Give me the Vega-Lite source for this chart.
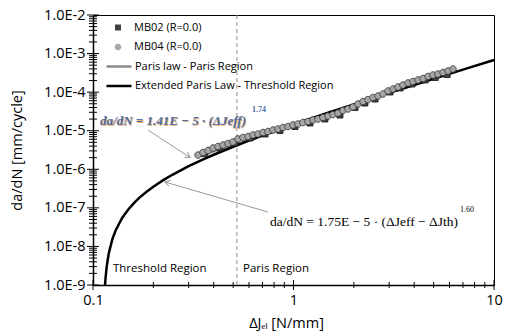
{
  "$schema": "https://vega.github.io/schema/vega-lite/v6.json",
  "width": 401,
  "height": 270,
  "autosize": {"type": "none"},
  "padding": {"left": 93, "top": 15, "right": 11, "bottom": 50},
  "background": "white",
  "config": {
    "view": {"stroke": "black", "strokeWidth": 1},
    "font": "Open Sans"
  },
  "datasets": {
    "paris": [
      {"x": 0.33, "y": 2.04e-6, "series": "Paris law - Paris Region"},
      {"x": 0.5, "y": 4.22e-6, "series": "Paris law - Paris Region"},
      {"x": 1, "y": 1.41e-5, "series": "Paris law - Paris Region"},
      {"x": 2, "y": 4.71e-5, "series": "Paris law - Paris Region"},
      {"x": 4, "y": 1.574e-4, "series": "Paris law - Paris Region"},
      {"x": 6.5, "y": 3.66e-4, "series": "Paris law - Paris Region"}
    ],
    "ext": [
      {"x": 0.1148, "y": 1.0e-9, "series": "Extended Paris Law - Threshold Region"},
      {"x": 0.1155, "y": 1.52e-9, "series": "Extended Paris Law - Threshold Region"},
      {"x": 0.117, "y": 2.97e-9, "series": "Extended Paris Law - Threshold Region"},
      {"x": 0.12, "y": 6.83e-9, "series": "Extended Paris Law - Threshold Region"},
      {"x": 0.125, "y": 1.56e-8, "series": "Extended Paris Law - Threshold Region"},
      {"x": 0.13, "y": 2.68e-8, "series": "Extended Paris Law - Threshold Region"},
      {"x": 0.14, "y": 5.54e-8, "series": "Extended Paris Law - Threshold Region"},
      {"x": 0.15, "y": 9.10e-8, "series": "Extended Paris Law - Threshold Region"},
      {"x": 0.16, "y": 1.33e-7, "series": "Extended Paris Law - Threshold Region"},
      {"x": 0.17, "y": 1.81e-7, "series": "Extended Paris Law - Threshold Region"},
      {"x": 0.185, "y": 2.62e-7, "series": "Extended Paris Law - Threshold Region"},
      {"x": 0.2, "y": 3.54e-7, "series": "Extended Paris Law - Threshold Region"},
      {"x": 0.225, "y": 5.30e-7, "series": "Extended Paris Law - Threshold Region"},
      {"x": 0.25, "y": 7.31e-7, "series": "Extended Paris Law - Threshold Region"},
      {"x": 0.3, "y": 1.20e-6, "series": "Extended Paris Law - Threshold Region"},
      {"x": 0.35, "y": 1.75e-6, "series": "Extended Paris Law - Threshold Region"},
      {"x": 0.4, "y": 2.38e-6, "series": "Extended Paris Law - Threshold Region"},
      {"x": 0.5, "y": 3.84e-6, "series": "Extended Paris Law - Threshold Region"},
      {"x": 0.6, "y": 5.54e-6, "series": "Extended Paris Law - Threshold Region"},
      {"x": 0.7, "y": 7.47e-6, "series": "Extended Paris Law - Threshold Region"},
      {"x": 0.85, "y": 1.075e-5, "series": "Extended Paris Law - Threshold Region"},
      {"x": 1, "y": 1.45e-5, "series": "Extended Paris Law - Threshold Region"},
      {"x": 1.5, "y": 2.96e-5, "series": "Extended Paris Law - Threshold Region"},
      {"x": 2, "y": 4.83e-5, "series": "Extended Paris Law - Threshold Region"},
      {"x": 3, "y": 9.55e-5, "series": "Extended Paris Law - Threshold Region"},
      {"x": 4, "y": 1.536e-4, "series": "Extended Paris Law - Threshold Region"},
      {"x": 5, "y": 2.22e-4, "series": "Extended Paris Law - Threshold Region"},
      {"x": 7, "y": 3.84e-4, "series": "Extended Paris Law - Threshold Region"},
      {"x": 10, "y": 6.84e-4, "series": "Extended Paris Law - Threshold Region"}
    ],
    "mb02": [
      {"x": 0.361, "y": 2.54e-6, "series": "MB02 (R=0.0)"},
      {"x": 0.430, "y": 3.56e-6, "series": "MB02 (R=0.0)"},
      {"x": 0.511, "y": 4.80e-6, "series": "MB02 (R=0.0)"},
      {"x": 0.607, "y": 6.47e-6, "series": "MB02 (R=0.0)"},
      {"x": 0.721, "y": 8.22e-6, "series": "MB02 (R=0.0)"},
      {"x": 0.856, "y": 1.014e-5, "series": "MB02 (R=0.0)"},
      {"x": 1.017, "y": 1.285e-5, "series": "MB02 (R=0.0)"},
      {"x": 1.208, "y": 1.585e-5, "series": "MB02 (R=0.0)"},
      {"x": 1.434, "y": 2.014e-5, "series": "MB02 (R=0.0)"},
      {"x": 1.705, "y": 2.55e-5, "series": "MB02 (R=0.0)"},
      {"x": 2.026, "y": 4.0e-5, "series": "MB02 (R=0.0)"},
      {"x": 2.27, "y": 5.22e-5, "series": "MB02 (R=0.0)"},
      {"x": 2.55, "y": 6.64e-5, "series": "MB02 (R=0.0)"},
      {"x": 3.03, "y": 1.009e-4, "series": "MB02 (R=0.0)"},
      {"x": 3.40, "y": 1.281e-4, "series": "MB02 (R=0.0)"},
      {"x": 3.90, "y": 1.626e-4, "series": "MB02 (R=0.0)"},
      {"x": 4.53, "y": 2.065e-4, "series": "MB02 (R=0.0)"},
      {"x": 5.09, "y": 2.40e-4, "series": "MB02 (R=0.0)"},
      {"x": 5.84, "y": 2.86e-4, "series": "MB02 (R=0.0)"}
    ],
    "mb04": [
      {"x": 0.3340, "y": 2.34e-6, "series": "MB04 (R=0.0)"},
      {"x": 0.3536, "y": 2.72e-6, "series": "MB04 (R=0.0)"},
      {"x": 0.3746, "y": 3.07e-6, "series": "MB04 (R=0.0)"},
      {"x": 0.3967, "y": 3.56e-6, "series": "MB04 (R=0.0)"},
      {"x": 0.4201, "y": 3.90e-6, "series": "MB04 (R=0.0)"},
      {"x": 0.4450, "y": 4.27e-6, "series": "MB04 (R=0.0)"},
      {"x": 0.4712, "y": 4.66e-6, "series": "MB04 (R=0.0)"},
      {"x": 0.4991, "y": 5.09e-6, "series": "MB04 (R=0.0)"},
      {"x": 0.5285, "y": 6.10e-6, "series": "MB04 (R=0.0)"},
      {"x": 0.5597, "y": 6.67e-6, "series": "MB04 (R=0.0)"},
      {"x": 0.5930, "y": 7.08e-6, "series": "MB04 (R=0.0)"},
      {"x": 0.6281, "y": 7.74e-6, "series": "MB04 (R=0.0)"},
      {"x": 0.6651, "y": 8.22e-6, "series": "MB04 (R=0.0)"},
      {"x": 0.7046, "y": 8.99e-6, "series": "MB04 (R=0.0)"},
      {"x": 0.7459, "y": 9.55e-6, "series": "MB04 (R=0.0)"},
      {"x": 0.7904, "y": 1.045e-5, "series": "MB04 (R=0.0)"},
      {"x": 0.8370, "y": 1.107e-5, "series": "MB04 (R=0.0)"},
      {"x": 0.8864, "y": 1.211e-5, "series": "MB04 (R=0.0)"},
      {"x": 0.9389, "y": 1.285e-5, "series": "MB04 (R=0.0)"},
      {"x": 0.9943, "y": 1.406e-5, "series": "MB04 (R=0.0)"},
      {"x": 1.0529, "y": 1.493e-5, "series": "MB04 (R=0.0)"},
      {"x": 1.1153, "y": 1.633e-5, "series": "MB04 (R=0.0)"},
      {"x": 1.1810, "y": 1.733e-5, "series": "MB04 (R=0.0)"},
      {"x": 1.2511, "y": 1.896e-5, "series": "MB04 (R=0.0)"},
      {"x": 1.3248, "y": 2.014e-5, "series": "MB04 (R=0.0)"},
      {"x": 1.4030, "y": 2.20e-5, "series": "MB04 (R=0.0)"},
      {"x": 1.4861, "y": 2.40e-5, "series": "MB04 (R=0.0)"},
      {"x": 1.5740, "y": 2.63e-5, "series": "MB04 (R=0.0)"},
      {"x": 1.6668, "y": 2.88e-5, "series": "MB04 (R=0.0)"},
      {"x": 1.7654, "y": 3.34e-5, "series": "MB04 (R=0.0)"},
      {"x": 1.8694, "y": 3.66e-5, "series": "MB04 (R=0.0)"},
      {"x": 1.9806, "y": 4.12e-5, "series": "MB04 (R=0.0)"},
      {"x": 2.0975, "y": 4.92e-5, "series": "MB04 (R=0.0)"},
      {"x": 2.2214, "y": 5.71e-5, "series": "MB04 (R=0.0)"},
      {"x": 2.3529, "y": 6.44e-5, "series": "MB04 (R=0.0)"},
      {"x": 2.4917, "y": 7.26e-5, "series": "MB04 (R=0.0)"},
      {"x": 2.6387, "y": 7.94e-5, "series": "MB04 (R=0.0)"},
      {"x": 2.7953, "y": 8.95e-5, "series": "MB04 (R=0.0)"},
      {"x": 2.9601, "y": 1.071e-4, "series": "MB04 (R=0.0)"},
      {"x": 3.1355, "y": 1.206e-4, "series": "MB04 (R=0.0)"},
      {"x": 3.3204, "y": 1.359e-4, "series": "MB04 (R=0.0)"},
      {"x": 3.5161, "y": 1.531e-4, "series": "MB04 (R=0.0)"},
      {"x": 3.7246, "y": 1.726e-4, "series": "MB04 (R=0.0)"},
      {"x": 3.9446, "y": 1.888e-4, "series": "MB04 (R=0.0)"},
      {"x": 4.1773, "y": 2.065e-4, "series": "MB04 (R=0.0)"},
      {"x": 4.4250, "y": 2.26e-4, "series": "MB04 (R=0.0)"},
      {"x": 4.6861, "y": 2.55e-4, "series": "MB04 (R=0.0)"},
      {"x": 4.9635, "y": 2.78e-4, "series": "MB04 (R=0.0)"},
      {"x": 5.2565, "y": 2.95e-4, "series": "MB04 (R=0.0)"},
      {"x": 5.5668, "y": 3.23e-4, "series": "MB04 (R=0.0)"},
      {"x": 5.8962, "y": 3.53e-4, "series": "MB04 (R=0.0)"},
      {"x": 6.2431, "y": 3.98e-4, "series": "MB04 (R=0.0)"}
    ],
    "boundary": [{"x": 0.522}],
    "xmajor": [{"v": 0.1}, {"v": 1}, {"v": 10}],
    "xminor": [{"v": 0.2}, {"v": 0.3}, {"v": 0.4}, {"v": 0.5}, {"v": 0.6}, {"v": 0.7}, {"v": 0.8}, {"v": 0.9}, {"v": 2}, {"v": 3}, {"v": 4}, {"v": 5}, {"v": 6}, {"v": 7}, {"v": 8}, {"v": 9}],
    "ymajor": [{"v": 1e-9}, {"v": 1e-8}, {"v": 1e-7}, {"v": 1e-6}, {"v": 1e-5}, {"v": 1e-4}, {"v": 1e-3}, {"v": 1e-2}],
    "yminor": [
      {"v": 2e-9}, {"v": 3e-9}, {"v": 4e-9}, {"v": 5e-9}, {"v": 6e-9}, {"v": 7e-9}, {"v": 8e-9}, {"v": 9e-9},
      {"v": 2e-8}, {"v": 3e-8}, {"v": 4e-8}, {"v": 5e-8}, {"v": 6e-8}, {"v": 7e-8}, {"v": 8e-8}, {"v": 9e-8},
      {"v": 2e-7}, {"v": 3e-7}, {"v": 4e-7}, {"v": 5e-7}, {"v": 6e-7}, {"v": 7e-7}, {"v": 8e-7}, {"v": 9e-7},
      {"v": 2e-6}, {"v": 3e-6}, {"v": 4e-6}, {"v": 5e-6}, {"v": 6e-6}, {"v": 7e-6}, {"v": 8e-6}, {"v": 9e-6},
      {"v": 2e-5}, {"v": 3e-5}, {"v": 4e-5}, {"v": 5e-5}, {"v": 6e-5}, {"v": 7e-5}, {"v": 8e-5}, {"v": 9e-5},
      {"v": 2e-4}, {"v": 3e-4}, {"v": 4e-4}, {"v": 5e-4}, {"v": 6e-4}, {"v": 7e-4}, {"v": 8e-4}, {"v": 9e-4},
      {"v": 2e-3}, {"v": 3e-3}, {"v": 4e-3}, {"v": 5e-3}, {"v": 6e-3}, {"v": 7e-3}, {"v": 8e-3}, {"v": 9e-3}
    ],
    "regions": [
      {"x": 0.1258, "y": 2.6e-9, "label": "Threshold Region"},
      {"x": 0.5597, "y": 2.6e-9, "label": "Paris Region"}
    ],
    "eq1": [{"x": 0.1084, "y": 1.79e-5, "label": "da/dN = 1.41E − 5 · (ΔJeff)"}],
    "eq1sup": [{"x": 0.621, "y": 3.44e-5, "label": "1.74"}],
    "eq2": [{"x": 0.763, "y": 4.30e-8, "label": "da/dN = 1.75E − 5 · (ΔJeff − ΔJth)"}],
    "eq2sup": [{"x": 6.77, "y": 8.8e-8, "label": "1.60"}],
    "arrows": [
      {"x": 0.188, "y": 1.04e-5, "x2": 0.3047, "y2": 2.02e-6},
      {"x": 0.746, "y": 7.8e-8, "x2": 0.2286, "y2": 4.68e-7}
    ],
    "head1": [{"x": 0.3047, "y": 2.02e-6}],
    "head2": [{"x": 0.2286, "y": 4.68e-7}]
  },
  "layer": [
    {
      "data": {"name": "boundary"},
      "mark": {"type": "rule", "stroke": "#8c8c8c", "strokeWidth": 1, "strokeDash": [4, 3]},
      "encoding": {
        "x": {
          "field": "x", "type": "quantitative",
          "scale": {"type": "log", "domain": [0.1, 10], "nice": false},
          "axis": {
            "orient": "bottom",
            "values": [0.1, 1, 10],
            "labelExpr": "format(datum.value, '~g')",
            "labelOverlap": false,
            "labelFlush": false,
            "labelFontSize": 14.5,
            "labelColor": "black",
            "labelPadding": 8,
            "ticks": false,
            "domainColor": "black",
            "domainWidth": 1.5,
            "grid": false,
            "title": "ΔJₑₗ [N/mm]",
            "titleFontSize": 14.5,
            "titleFontWeight": "normal",
            "titleColor": "black",
            "titleX": 193,
            "titleY": 38,
            "titleBaseline": "middle"
          }
        }
      }
    },
    {
      "data": {"name": "paris"},
      "mark": {"type": "line", "stroke": "#8c8c8c", "strokeWidth": 2},
      "encoding": {
        "x": {"field": "x", "type": "quantitative"},
        "y": {
          "field": "y", "type": "quantitative",
          "scale": {"type": "log", "domain": [1e-9, 1e-2], "nice": false},
          "axis": {
            "orient": "left",
            "values": [1e-9, 1e-8, 1e-7, 1e-6, 1e-5, 1e-4, 1e-3, 1e-2],
            "labelExpr": "'1.0E' + round(log(datum.value)/LN10)",
            "labelOverlap": false,
            "labelFlush": false,
            "labelFontSize": 14.5,
            "labelColor": "black",
            "labelPadding": 8,
            "ticks": false,
            "domainColor": "black",
            "domainWidth": 1.5,
            "grid": false,
            "title": "da/dN [mm/cycle]",
            "titleFontSize": 14.5,
            "titleFontWeight": "normal",
            "titleColor": "black",
            "titleX": -76,
            "titleY": 135,
            "titleBaseline": "middle",
            "titleAngle": -90
          }
        },
        "stroke": {
          "field": "series", "type": "nominal",
          "scale": {"domain": ["Paris law - Paris Region", "Extended Paris Law - Threshold Region"], "range": ["#8c8c8c", "#000000"]},
          "legend": {
            "orient": "none", "legendX": 19.5, "legendY": 45, "title": null, "padding": 0,
            "symbolType": "M-2.5,0L2.5,0", "symbolSize": 100, "symbolStrokeWidth": 2.5,
            "labelFontSize": 11, "labelColor": "black", "labelOffset": 9.5, "rowPadding": 7.5, "labelLimit": 400
          }
        }
      }
    },
    {
      "data": {"name": "ext"},
      "mark": {"type": "line", "strokeWidth": 2.5},
      "encoding": {
        "x": {"field": "x", "type": "quantitative"},
        "y": {"field": "y", "type": "quantitative"},
        "stroke": {"field": "series", "type": "nominal"}
      }
    },
    {
      "data": {"name": "ymajor"},
      "mark": {"type": "rule", "color": "#000000", "strokeWidth": 1, "opacity": 1},
      "encoding": {
        "y": {"field": "v", "type": "quantitative"},
        "x": {"datum": 0.09334, "type": "quantitative"},
        "x2": {"datum": 0.10713}
      }
    },
    {
      "data": {"name": "yminor"},
      "mark": {"type": "rule", "color": "#000000", "strokeWidth": 1, "opacity": 1},
      "encoding": {
        "y": {"field": "v", "type": "quantitative"},
        "x": {"datum": 0.09551, "type": "quantitative"},
        "x2": {"datum": 0.1047}
      }
    },
    {
      "data": {"name": "xmajor"},
      "mark": {"type": "rule", "color": "#000000", "strokeWidth": 1, "opacity": 1},
      "encoding": {
        "x": {"field": "v", "type": "quantitative"},
        "y": {"datum": 7.42e-10, "type": "quantitative"},
        "y2": {"datum": 1.348e-9}
      }
    },
    {
      "data": {"name": "xminor"},
      "mark": {"type": "rule", "color": "#000000", "strokeWidth": 1, "opacity": 1},
      "encoding": {
        "x": {"field": "v", "type": "quantitative"},
        "y": {"datum": 8.36e-10, "type": "quantitative"},
        "y2": {"datum": 1.196e-9}
      }
    },
    {
      "data": {"name": "mb02"},
      "mark": {"type": "point", "filled": true, "size": 100, "stroke": "#111111", "strokeWidth": 0.8, "opacity": 1},
      "encoding": {
        "x": {"field": "x", "type": "quantitative"},
        "y": {"field": "y", "type": "quantitative"},
        "fill": {
          "field": "series", "type": "nominal",
          "scale": {"domain": ["MB02 (R=0.0)", "MB04 (R=0.0)"], "range": ["#404040", "#a6a6a6"]},
          "legend": {
            "orient": "none", "legendX": 19.5, "legendY": 7, "title": null, "padding": 0,
            "symbolSize": 100, "symbolStrokeColor": "#222222", "symbolStrokeWidth": 0.8,
            "labelFontSize": 11, "labelColor": "black", "labelOffset": 10.5, "rowPadding": 7.5
          }
        },
        "shape": {
          "field": "series", "type": "nominal",
          "scale": {"domain": ["MB02 (R=0.0)", "MB04 (R=0.0)"], "range": ["M-0.6,-0.6L0.6,-0.6L0.6,0.6L-0.6,0.6Z", "M0.66,0A0.66,0.66,0,1,1,-0.66,0A0.66,0.66,0,1,1,0.66,0Z"]},
          "legend": {
            "orient": "none", "legendX": 19.5, "legendY": 7, "title": null, "padding": 0,
            "symbolSize": 100, "symbolStrokeColor": "#222222", "symbolStrokeWidth": 0.8,
            "labelFontSize": 11, "labelColor": "black", "labelOffset": 10.5, "rowPadding": 7.5
          }
        }
      }
    },
    {
      "data": {"name": "mb04"},
      "mark": {"type": "point", "filled": true, "size": 100, "stroke": "#333333", "strokeWidth": 0.8, "opacity": 1},
      "encoding": {
        "x": {"field": "x", "type": "quantitative"},
        "y": {"field": "y", "type": "quantitative"},
        "fill": {"field": "series", "type": "nominal"},
        "shape": {"field": "series", "type": "nominal"}
      }
    },
    {
      "data": {"name": "arrows"},
      "mark": {"type": "rule", "stroke": "#999999", "strokeWidth": 1},
      "encoding": {
        "x": {"field": "x", "type": "quantitative"},
        "y": {"field": "y", "type": "quantitative"},
        "x2": {"field": "x2"},
        "y2": {"field": "y2"}
      }
    },
    {
      "data": {"name": "head1"},
      "mark": {"type": "point", "shape": "M-1,-0.6L0,0L-1,0.6", "filled": false, "stroke": "#999999", "strokeWidth": 1, "size": 100, "angle": 33.7, "opacity": 1},
      "encoding": {
        "x": {"field": "x", "type": "quantitative"},
        "y": {"field": "y", "type": "quantitative"}
      }
    },
    {
      "data": {"name": "head2"},
      "mark": {"type": "point", "shape": "M-1,-0.6L0,0L-1,0.6", "filled": false, "stroke": "#999999", "strokeWidth": 1, "size": 100, "angle": 196.2, "opacity": 1},
      "encoding": {
        "x": {"field": "x", "type": "quantitative"},
        "y": {"field": "y", "type": "quantitative"}
      }
    },
    {
      "data": {"name": "regions"},
      "mark": {"type": "text", "align": "left", "baseline": "middle", "fontSize": 11.5, "color": "black"},
      "encoding": {
        "x": {"field": "x", "type": "quantitative"},
        "y": {"field": "y", "type": "quantitative"},
        "text": {"field": "label"}
      }
    },
    {
      "data": {"name": "eq1"},
      "mark": {"type": "text", "align": "left", "baseline": "middle", "font": "Liberation Serif", "fontSize": 13, "fontStyle": "italic", "fontWeight": "bold", "color": "#f0b070", "dx": 1, "dy": 1},
      "encoding": {
        "x": {"field": "x", "type": "quantitative"},
        "y": {"field": "y", "type": "quantitative"},
        "text": {"field": "label"}
      }
    },
    {
      "data": {"name": "eq1"},
      "mark": {"type": "text", "align": "left", "baseline": "middle", "font": "Liberation Serif", "fontSize": 13, "fontStyle": "italic", "fontWeight": "bold", "color": "#4a6ea8"},
      "encoding": {
        "x": {"field": "x", "type": "quantitative"},
        "y": {"field": "y", "type": "quantitative"},
        "text": {"field": "label"}
      }
    },
    {
      "data": {"name": "eq1sup"},
      "mark": {"type": "text", "align": "left", "baseline": "middle", "font": "Liberation Serif", "fontSize": 8, "fontWeight": "bold", "color": "#4a6ea8"},
      "encoding": {
        "x": {"field": "x", "type": "quantitative"},
        "y": {"field": "y", "type": "quantitative"},
        "text": {"field": "label"}
      }
    },
    {
      "data": {"name": "eq2"},
      "mark": {"type": "text", "align": "left", "baseline": "middle", "font": "Liberation Serif", "fontSize": 13.5, "color": "black"},
      "encoding": {
        "x": {"field": "x", "type": "quantitative"},
        "y": {"field": "y", "type": "quantitative"},
        "text": {"field": "label"}
      }
    },
    {
      "data": {"name": "eq2sup"},
      "mark": {"type": "text", "align": "left", "baseline": "middle", "font": "Liberation Serif", "fontSize": 8, "color": "black"},
      "encoding": {
        "x": {"field": "x", "type": "quantitative"},
        "y": {"field": "y", "type": "quantitative"},
        "text": {"field": "label"}
      }
    }
  ]
}
